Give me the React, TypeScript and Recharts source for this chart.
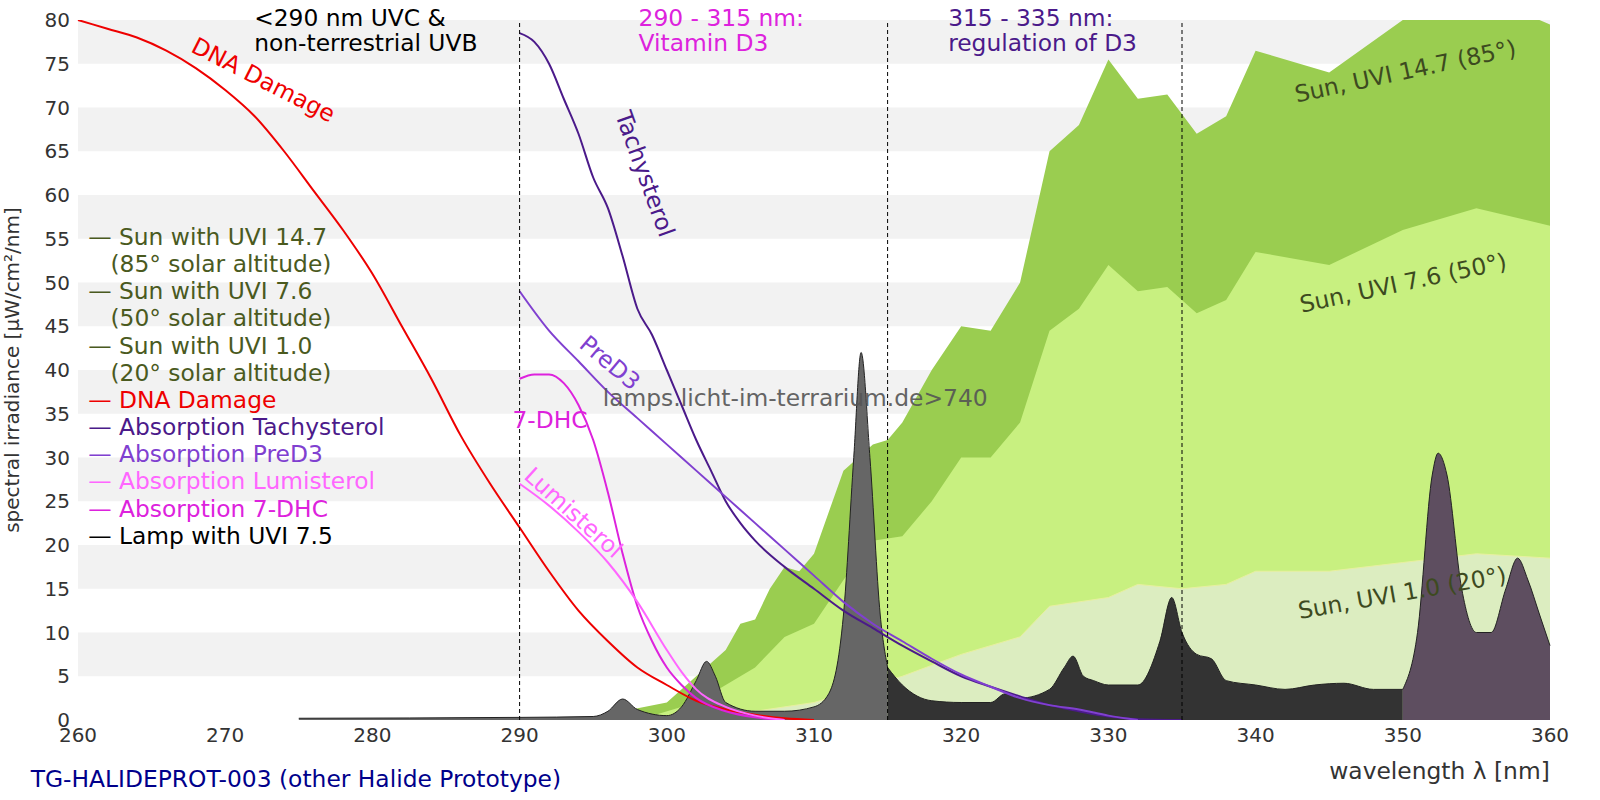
import { ComposedChart, Area, Line, XAxis, YAxis, ReferenceArea, ReferenceLine } from 'recharts'

const sun147: [number, number][] = [[297,1],[300,2],[302,5],[304,8],[305,11],[306,11.5],[307,15],[308,17.5],[309,17],[310,19],[312,28.5],[314,31.5],[315,32],[316,34],[318,40],[320,45],[322,44.5],[324,50],[326,65],[328,68],[330,75.5],[332,71],[334,71.5],[336,67],[338,69],[340,76.5],[345,74],[350,80],[355,83],[360,79.5]]
const sun76: [number, number][] = [[299,0.5],[302,2],[304,4],[306,6],[308,9.5],[310,11],[312,16],[314,20.5],[316,21],[318,25],[320,30],[322,30],[324,34],[326,44.5],[328,47],[330,52],[332,49],[334,49.5],[336,46.5],[338,48],[340,53.5],[345,52],[350,56],[355,58.5],[360,56.5]]
const sun10: [number, number][] = [[303,0.3],[306,1],[310,2],[313,3.5],[316,5],[320,7.5],[324,9.5],[326,13],[330,14],[332,15.5],[335,15],[338,15.5],[340,17],[345,17],[350,18],[355,19],[360,18.5]]
const lamp: [number, number][] = [[275,0.2],[290,0.3],[295,0.4],[296,1],[297,2.4],[298,1.2],[300,0.5],[301,1.5],[302,4.5],[302.7,6.7],[303.3,5],[304,2],[306,1],[308,1],[310,1.5],[311,3],[312,12],[312.7,30],[313.2,42],[313.8,30],[314.5,12],[315,6],[316,4],[318,2.2],[320,2],[322,2],[323,3],[324,2.5],[326,3.5],[327,6],[327.6,7.3],[328.3,5],[329,4.5],[330,4],[332,4],[333.5,9],[334.3,14],[335,10],[336,7.5],[337,7],[338,4.5],[340,4],[342,3.5],[344,4],[346,4.2],[348,3.5],[350,3.5],[351,10],[352,28],[352.4,30.5],[353,28],[354,15],[355,10],[356,10],[357,15],[357.8,18.5],[358.5,16],[359.3,12],[360,8.5]]
const dna: [number, number][] = [[260,80],[262,79],[264,78],[266,76.5],[268,74.5],[270,72],[272,69],[274,65],[276,60.5],[278,56],[280,51],[282,45],[284,39],[286,32.5],[288,27],[290,22],[292,17],[294,12.5],[296,9],[298,6],[300,4],[302,2.2],[304,1.2],[306,0.6],[308,0.2],[310,0]]
const tachy: [number, number][] = [[290,78.5],[291,77.5],[292,75],[293,71],[294,67],[295,62],[296,58.5],[297,53],[298,47],[299,44],[300,40],[301,36],[302,32],[303,28.5],[304,25],[305,22.5],[306,20.5],[308,17.5],[310,15],[312,12.5],[314,10.5],[316,8.5],[318,6.7],[320,5],[322,3.8],[324,2.7],[326,1.7],[328,1],[330,0.4],[332,0.1],[335,0]]
const preD3: [number, number][] = [[290,49],[292,44.5],[294,41],[296,37.5],[298,34.5],[300,31.5],[302,28.5],[304,25.5],[306,22.5],[308,19.5],[310,16.5],[312,13.5],[314,11],[316,9],[318,7],[320,5.2],[322,3.8],[324,2.5],[326,1.7],[328,1.2],[330,0.5],[332,0]]
const dhc7: [number, number][] = [[290,39],[291,39.5],[292,39.5],[293,38.5],[294,36],[295,32],[296,26],[297,19],[298,13],[299,9],[300,6],[301,4],[302,2.5],[304,1],[306,0.3],[308,0]]
const lumi: [number, number][] = [[290,27],[292,24.5],[294,21.5],[296,18],[298,13.5],[300,8],[301,5.5],[302,3.5],[304,1.5],[306,0.5],[308,0]]
const xTicks = [260,270,280,290,300,310,320,330,340,350,360]
const yTicks = [0,5,10,15,20,25,30,35,40,45,50,55,60,65,70,75,80]
const bands = [5,15,25,35,45,55,65,75]

const series: Record<string, [number, number][]> = {
  sun147, sun76, sun10, dna, tachy, preD3, dhc7, lumi,
  lampA: lamp.filter(p => p[0] <= 315),
  lampB: lamp.filter(p => p[0] >= 315 && p[0] <= 350),
  lampC: lamp.filter(p => p[0] >= 350),
}
const xs = Array.from(new Set(Object.values(series).flatMap(s => s.map(p => p[0])))).sort((a, b) => a - b)
const table = xs.map(x => {
  const row: Record<string, number> = { x }
  for (const k in series) {
    const p = series[k].find(q => q[0] === x)
    if (p) row[k] = p[1]
  }
  return row
})

const olive = '#4a5a1e'
const legend = [
  ['— Sun with UVI 14.7', olive], ['   (85° solar altitude)', olive],
  ['— Sun with UVI 7.6', olive], ['   (50° solar altitude)', olive],
  ['— Sun with UVI 1.0', olive], ['   (20° solar altitude)', olive],
  ['— DNA Damage', '#ee0000'], ['— Absorption Tachysterol', '#4b1a8a'],
  ['— Absorption PreD3', '#8040d0'], ['— Absorption Lumisterol', '#ff66ff'],
  ['— Absorption 7-DHC', '#dd22dd'], ['— Lamp with UVI 7.5', '#000000'],
]

const font = 'DejaVu Sans, sans-serif'
const fs = 22.8

export default function App() {
  return (
    <div style={{ position: 'relative', width: 1600, height: 800, fontFamily: font, background: '#fff' }}>
      <style>{'body{margin:0}'}</style>
      <ComposedChart width={1600} height={800} data={table} margin={{ top: 20, right: 50, left: 18, bottom: 50 }}>
        {bands.map(b => <ReferenceArea key={b} y1={b} y2={b + 5} fill="#f2f2f2" fillOpacity={1} stroke="none" />)}
        <XAxis dataKey="x" type="number" domain={[260, 360]} ticks={xTicks} tick={{ fontSize: 20, fill: '#333', fontFamily: font }} tickLine={false} axisLine={false} />
        <YAxis type="number" domain={[0, 80]} allowDataOverflow ticks={yTicks} width={60} tick={{ fontSize: 20, fill: '#333', fontFamily: font }} tickLine={false} axisLine={false}
          label={{ value: 'spectral irradiance [µW/cm²/nm]', angle: -90, position: 'insideLeft', offset: 0, dx: -6, style: { fontSize: 20, fill: '#333', textAnchor: 'middle', fontFamily: font } }} />
        <Area dataKey="sun147" type="linear" connectNulls fill="#9acd50" fillOpacity={1} stroke="none" isAnimationActive={false} />
        <Area dataKey="sun76" type="linear" connectNulls fill="#c8f080" fillOpacity={1} stroke="none" isAnimationActive={false} />
        <Area dataKey="sun10" type="linear" connectNulls fill="#dcedc0" fillOpacity={1} stroke="#e8f0a0" strokeWidth={1} isAnimationActive={false} />
        <Area dataKey="lampA" type="monotone" connectNulls fill="#666666" fillOpacity={1} stroke="#222" strokeWidth={1} isAnimationActive={false} />
        <Area dataKey="lampB" type="monotone" connectNulls fill="#333333" fillOpacity={1} stroke="#222" strokeWidth={1} isAnimationActive={false} />
        <Area dataKey="lampC" type="monotone" connectNulls fill="#5e4e60" fillOpacity={1} stroke="#222" strokeWidth={1} isAnimationActive={false} />
        <Line dataKey="dna" type="monotone" connectNulls stroke="#ee0000" strokeWidth={2} dot={false} isAnimationActive={false} />
        <Line dataKey="tachy" type="monotone" connectNulls stroke="#4b1a8a" strokeWidth={2} dot={false} isAnimationActive={false} />
        <Line dataKey="preD3" type="monotone" connectNulls stroke="#8040d0" strokeWidth={2} dot={false} isAnimationActive={false} />
        <Line dataKey="dhc7" type="monotone" connectNulls stroke="#dd22dd" strokeWidth={2} dot={false} isAnimationActive={false} />
        <Line dataKey="lumi" type="monotone" connectNulls stroke="#ff66ff" strokeWidth={2} dot={false} isAnimationActive={false} />
        {[290, 315, 335].map(x => <ReferenceLine key={x} x={x} stroke="#000" strokeDasharray="4 3" strokeWidth={1} />)}
      </ComposedChart>
      <svg width={1600} height={800} style={{ position: 'absolute', left: 0, top: 0, pointerEvents: 'none', fontFamily: font }}>
        <g transform="scale(1.025)">
          <text x={248} y={25} fontSize={fs} fill="#000">&lt;290 nm UVC &amp;</text>
          <text x={248} y={50} fontSize={fs} fill="#000">non-terrestrial UVB</text>
          <text x={623} y={25} fontSize={fs} fill="#dd22dd">290 - 315 nm:</text>
          <text x={623} y={50} fontSize={fs} fill="#dd22dd">Vitamin D3</text>
          <text x={925} y={25} fontSize={fs} fill="#4b1a8a">315 - 335 nm:</text>
          <text x={925} y={50} fontSize={fs} fill="#4b1a8a">regulation of D3</text>
          <text x={185} y={50} fontSize={fs} fill="#ee0000" transform="rotate(27 185 50)">DNA Damage</text>
          <text x={600} y={112} fontSize={fs} fill="#4b1a8a" transform="rotate(70 600 112)">Tachysterol</text>
          <text x={564} y={338} fontSize={fs} fill="#8040d0" transform="rotate(40 564 338)">PreD3</text>
          <text x={500} y={418} fontSize={fs} fill="#dd22dd">7-DHC</text>
          <text x={510} y={466} fontSize={fs} fill="#ff66ff" transform="rotate(42 510 466)">Lumisterol</text>
          <text x={588} y={396} fontSize={fs} fill="#555" opacity={0.9}>lamps.licht-im-terrarium.de&gt;740</text>
          <text x={1265} y={100} fontSize={fs} fill="#3d4a20" transform="rotate(-12 1265 100)">Sun, UVI 14.7 (85°)</text>
          <text x={1270} y={305} fontSize={fs} fill="#3d4a20" transform="rotate(-12 1270 305)">Sun, UVI 7.6 (50°)</text>
          <text x={1268} y={604} fontSize={fs} fill="#3d4a20" transform="rotate(-10 1268 604)">Sun, UVI 1.0 (20°)</text>
          {legend.map(([t, c], i) => (
            <text key={i} x={86} y={239 + i * 26.5} fontSize={fs} fill={c} style={{ whiteSpace: 'pre' }}>{t}</text>
          ))}
          <text x={1512} y={760} fontSize={fs} fill="#333" textAnchor="end">wavelength λ [nm]</text>
          <text x={30} y={768} fontSize={fs} fill="#00008b">TG-HALIDEPROT-003 (other Halide Prototype)</text>
        </g>
      </svg>
    </div>
  )
}
